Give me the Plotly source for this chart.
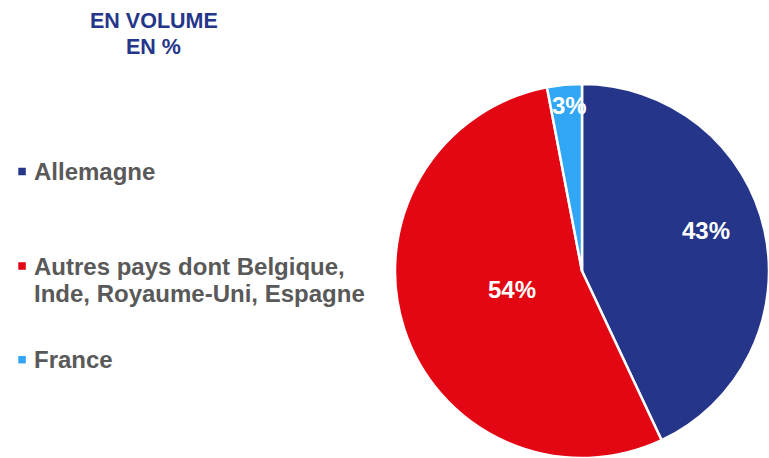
import math
import plotly.graph_objects as go

# Volume share by country of origin, in %
countries = ["Allemagne", "Autres pays dont Belgique,<br>Inde, Royaume-Uni, Espagne", "France"]
shares = [43, 54, 3]
colors = ["#25368A", "#E30613", "#31A6F4"]
title_lines = ["EN VOLUME", "EN %"]

W, H = 769, 458
FONT = "Liberation Sans, Arial, sans-serif"
GREY = "#595959"
NAVY = "#25368A"

# Pie placement (pixels); value labels sit at a fraction of the radius,
# nudged (degrees) from each slice's mid-angle
PIE_LEFT, PIE_TOP = 395, 84
label_radius = [0.70, 0.39, 0.89]
label_nudge = [-5.5, 3.0, 1.0]


def px(x):
    return x / W


def py(y):
    return 1 - y / H


pie_size = min(W - PIE_LEFT, H - PIE_TOP)
cx, cy = PIE_LEFT + pie_size / 2, PIE_TOP + pie_size / 2
r = pie_size / 2

fig = go.Figure()

fig.add_trace(go.Pie(
    values=shares,
    labels=[c.replace("<br>", " ") for c in countries],
    marker=dict(colors=colors, line=dict(color="white", width=2.5)),
    sort=False,
    direction="clockwise",
    rotation=0,
    textinfo="none",
    hoverinfo="skip",
    showlegend=False,
    domain=dict(x=[px(PIE_LEFT), px(PIE_LEFT + pie_size)], y=[py(PIE_TOP + pie_size), py(PIE_TOP)]),
))

annotations = []
shapes = []

# Value labels on the slices
total = sum(shares)
start = 0.0
for val, rf, nudge in zip(shares, label_radius, label_nudge):
    mid = (start + val / 2) / total * 2 * math.pi + math.radians(nudge)  # clockwise from 12 o'clock
    start += val
    lx = cx + rf * r * math.sin(mid)
    ly = cy - rf * r * math.cos(mid)
    annotations.append(dict(
        text=f"{val}%", x=px(lx), y=py(ly), xref="paper", yref="paper",
        xanchor="center", yanchor="middle", showarrow=False,
        font=dict(family=FONT, size=24, color="white", weight="bold"),
    ))

# Title, two centred lines
for i, line in enumerate(title_lines):
    annotations.append(dict(
        text=line, x=px(153.5), y=py(20.9 + 26 * i), xref="paper", yref="paper",
        xanchor="center", yanchor="middle", showarrow=False,
        font=dict(family=FONT, size=21.5, color=NAVY, weight="bold"),
    ))

# Hand-built legend: small colour square and bold grey label per country
item_mid = [171.5, 266, 359.7]
for name, col, yc in zip(countries, colors, item_mid):
    shapes.append(dict(
        type="rect", xref="paper", yref="paper",
        x0=px(18.3), x1=px(25.8), y0=py(yc - 3.75), y1=py(yc + 3.75),
        fillcolor=col, line=dict(width=0),
    ))
    for j, line in enumerate(name.split("<br>")):
        annotations.append(dict(
            text=line, x=px(32), y=py(yc + 27.7 * j), xref="paper", yref="paper",
            xanchor="left", yanchor="middle", showarrow=False,
            font=dict(family=FONT, size=24, color=GREY, weight="bold"),
        ))

fig.update_layout(
    width=W, height=H,
    margin=dict(l=0, r=0, t=0, b=0),
    paper_bgcolor="white",
    plot_bgcolor="white",
    annotations=annotations,
    shapes=shapes,
)

fig.write_html("out.html")
